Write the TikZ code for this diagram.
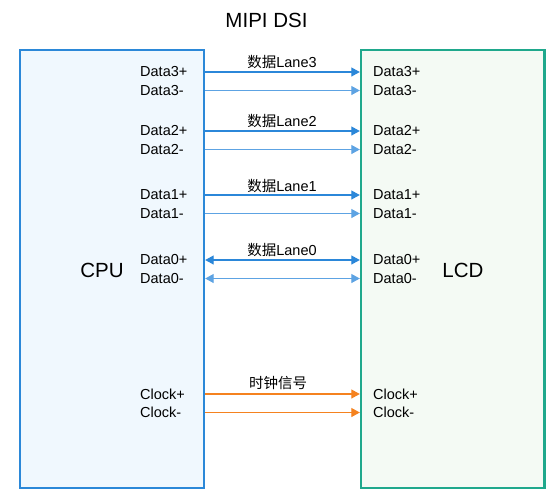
\documentclass[tikz,border=0pt]{standalone}
\usepackage{fontspec}
\setmainfont{Liberation Sans}
\newfontfamily\cjk{Noto Sans CJK SC}
\usetikzlibrary{arrows.meta}
\definecolor{cpublue}{HTML}{2B88D8}
\definecolor{cpufill}{HTML}{F0F8FE}
\definecolor{lcdteal}{HTML}{1FA88C}
\definecolor{lcdfill}{HTML}{F4FAF4}
\definecolor{plusblue}{HTML}{2B87D9}
\definecolor{minusblue}{HTML}{5DA3E3}
\definecolor{clkorange}{HTML}{F5821F}
\tikzset{
  box/.style={draw, line width=2.4pt, inner sep=0pt},
  lbl/.style={font=\fontsize{14.5}{15}\selectfont, inner sep=0pt, anchor=west},
  lane/.style={font=\fontsize{14.5}{15}\selectfont, inner sep=0pt},
  big/.style={font=\fontsize{20.5}{22}\selectfont, inner sep=0pt},
  tip/.style={-{Triangle[length=8.5pt,width=9pt]}},
  btip/.style={{Triangle[length=8.5pt,width=9pt]}-{Triangle[length=8.5pt,width=9pt]}},
  pl/.style={line width=1.2pt, draw=plusblue, fill=plusblue},
  mi/.style={line width=1.2pt, draw=minusblue, fill=minusblue},
  ck/.style={line width=1.2pt, draw=clkorange, fill=clkorange},
}
\begin{document}
\begin{tikzpicture}[x=1pt,y=-1pt]
\useasboundingbox (0,0) rectangle (560,499);
\fill[white] (0,0) rectangle (560,499);
\node[box, draw=cpublue, fill=cpufill, minimum width=184pt, minimum height=438pt] (cpu) at (112,269) {};
\node[box, draw=lcdteal, fill=lcdfill, minimum width=183.5pt, minimum height=438pt] (lcd) at (452.75,269) {};
\node[big] (title) at (266.5,20) {MIPI DSI};
\node[big] (cputxt) at (102,270) {CPU};
\node[big] (lcdtxt) at (463,270) {LCD};
% signal rows
\foreach \n/\t/\y in {d3p/Data3+/72, d3m/Data3-/90.5, d2p/Data2+/131, d2m/Data2-/149.5, d1p/Data1+/195, d1m/Data1-/213.5, d0p/Data0+/260, d0m/Data0-/278.5, ckp/Clock+/394, ckm/Clock-/412.5}{
  \coordinate (\n) at (280,\y);
  \node[lbl] (c\n) at (140,\y) {\t};
  \node[lbl] (l\n) at (373,\y) {\t};
}
\node[lane] (lane3) at (282,61.5) {{\cjk 数据}Lane3};
\node[lane] (lane2) at (282,121) {{\cjk 数据}Lane2};
\node[lane] (lane1) at (282,185.5) {{\cjk 数据}Lane1};
\node[lane] (lane0) at (282,250) {{\cjk 数据}Lane0};
\node[lane] (clk) at (278,383) {\cjk 时钟信号};
% connectors
\draw[pl, tip] (cpu.east |- d3p) -- (lcd.west |- d3p);
\draw[mi, tip] (cpu.east |- d3m) -- (lcd.west |- d3m);
\draw[pl, tip] (cpu.east |- d2p) -- (lcd.west |- d2p);
\draw[mi, tip] (cpu.east |- d2m) -- (lcd.west |- d2m);
\draw[pl, tip] (cpu.east |- d1p) -- (lcd.west |- d1p);
\draw[mi, tip] (cpu.east |- d1m) -- (lcd.west |- d1m);
\draw[pl, btip] (cpu.east |- d0p) -- (lcd.west |- d0p);
\draw[mi, btip] (cpu.east |- d0m) -- (lcd.west |- d0m);
\draw[ck, tip] (cpu.east |- ckp) -- (lcd.west |- ckp);
\draw[ck, tip] (cpu.east |- ckm) -- (lcd.west |- ckm);
\end{tikzpicture}
\end{document}
